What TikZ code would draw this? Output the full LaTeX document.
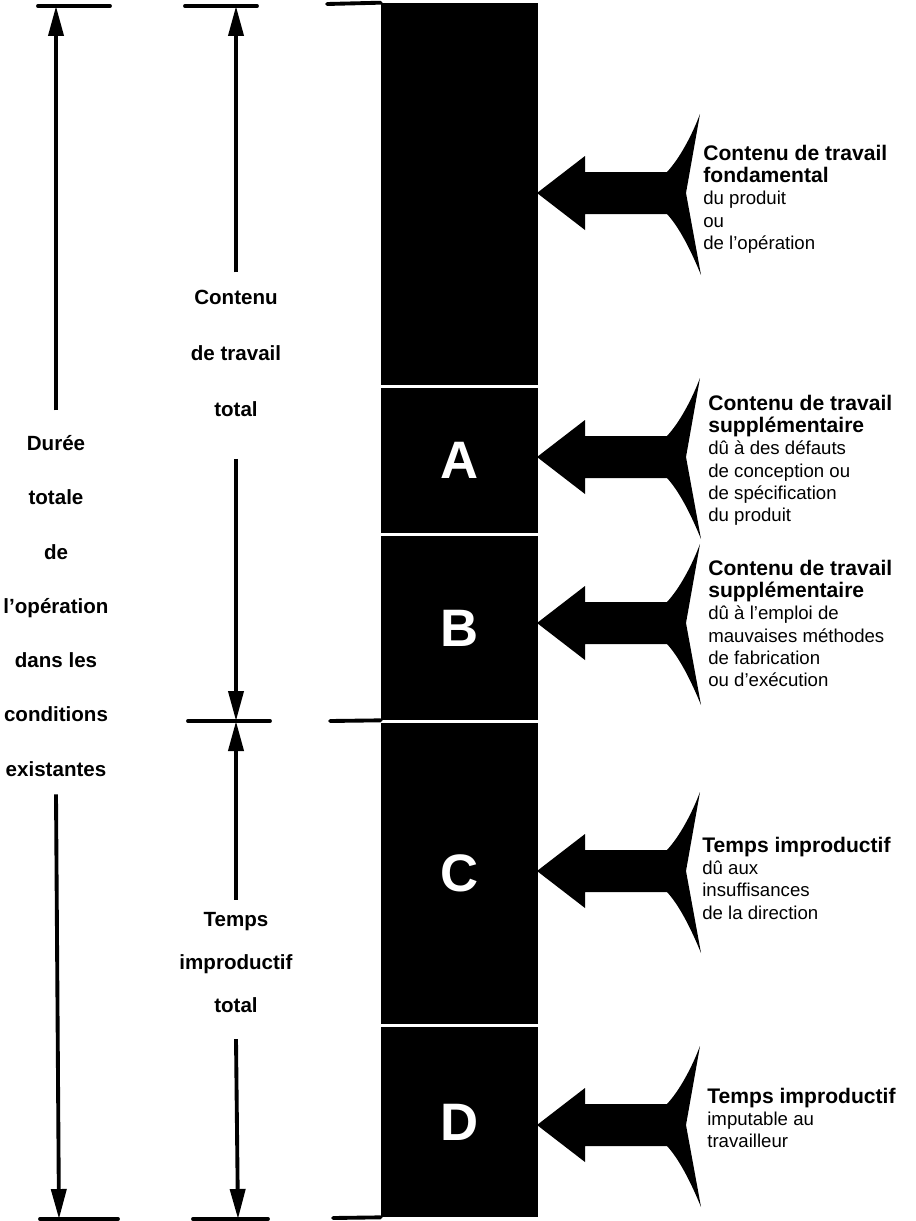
\documentclass[tikz,border=0pt]{standalone}
\usepackage{fontspec}
\setmainfont{Liberation Sans}
\usetikzlibrary{arrows.meta}
\newcommand\hdline[1]{{\fontsize{12}{12.6}\selectfont\bfseries #1}}
\begin{document}
\begin{tikzpicture}[y=-0.02cm,x=0.02cm]
            \tikzset{
                blk/.style={fill=black,text=white,minimum width=3.14cm,inner sep=0pt,font=\bfseries\fontsize{30}{30}\selectfont},
                dim/.style={line width=2.2pt,-{Triangle[length=0.6cm,width=0.3cm]}},
                tick/.style={line width=2.2pt,line cap=round},
                lbl/.style={align=center,inner sep=0pt,anchor=north,font=\bfseries\fontsize{11.7}{#1}\selectfont},
                note/.style={align=left,inner sep=0pt,anchor=north west,font=\fontsize{10.6}{12.6}\selectfont}
            }
            \useasboundingbox (0,0) rectangle (916,1221);

            \node[blk,minimum height=7.64cm] (b0) at (459.5,194) {};
            \node[blk,minimum height=2.9cm] (bA) at (459.5,460.5) {A};
            \node[blk,minimum height=3.68cm] (bB) at (459.5,628) {B};
            \node[blk,minimum height=6.02cm] (bC) at (459.5,873.5) {C};
            \node[blk,minimum height=3.8cm] (bD) at (459.5,1122) {D};

            \foreach \y in {193,457,623,871,1125}{
                    \fill[shift={(537,\y)}] (0,0) -- (48,-37) -- (48,-21) -- (130,-21)
                        .. controls (143,-35) and (155,-58) .. (163,-79) -- (149,0) -- (164,82)
                        .. controls (155,60) and (143,35) .. (130,21) -- (48,21) -- (48,37) -- cycle;
                }

            \node[note] (n0) at (703,145) {\hdline{Contenu de travail}\\\hdline{fondamental}\\du produit\\ou\\de l’opération};
            \node[note] (nA) at (708,395) {\hdline{Contenu de travail}\\\hdline{supplémentaire}\\dû à des défauts\\de conception ou\\de spécification\\du produit};
            \node[note] (nB) at (708,560) {\hdline{Contenu de travail}\\\hdline{supplémentaire}\\dû à l’emploi de\\mauvaises méthodes\\de fabrication\\ou d’exécution};
            \node[note] (nC) at (702,837) {\hdline{Temps improductif}\\dû aux\\insuffisances\\de la direction};
            \node[note] (nD) at (707,1088) {\hdline{Temps improductif}\\imputable au\\travailleur};

            \node[lbl=30.9pt] (dur) at (56,435) {Durée\\totale\\de\\l’opération\\dans les\\conditions\\existantes};
            \node[lbl=31.75pt] (ctot) at (236,290) {Contenu\\de travail\\total};
            \node[lbl=24.4pt] (itot) at (236,912) {Temps\\improductif\\total};

            \coordinate (t1) at (56,6);
            \coordinate (t2) at (236,6);
            \coordinate (m2) at (236,721);
            \coordinate (e1) at (59,1219);
            \coordinate (e2) at (238,1219);

            \draw[dim] ([yshift=14pt]dur.north) -- (t1);
            \draw[dim] ([yshift=-10pt]dur.south) -- (e1);
            \draw[dim] ([yshift=10pt]ctot.north) -- (t2);
            \draw[dim] ([yshift=-24pt]ctot.south) -- (m2);
            \draw[dim] ([yshift=7pt]itot.north) -- (m2);
            \draw[dim] ([yshift=-15pt]itot.south) -- (e2);

            \draw[tick] (38,6) -- (110,6);
            \draw[tick] (185,6) -- (257,6);
            \draw[tick] (327,4) -- (b0.north west);
            \draw[tick] (188,721) -- (270,721);
            \draw[tick] (330,721) -- (bB.south west);
            \draw[tick] (40,1219) -- (118,1219);
            \draw[tick] (193,1219) -- (268,1219);
            \draw[tick] (333,1218) -- (bD.south west);
        \end{tikzpicture}
\end{document}
